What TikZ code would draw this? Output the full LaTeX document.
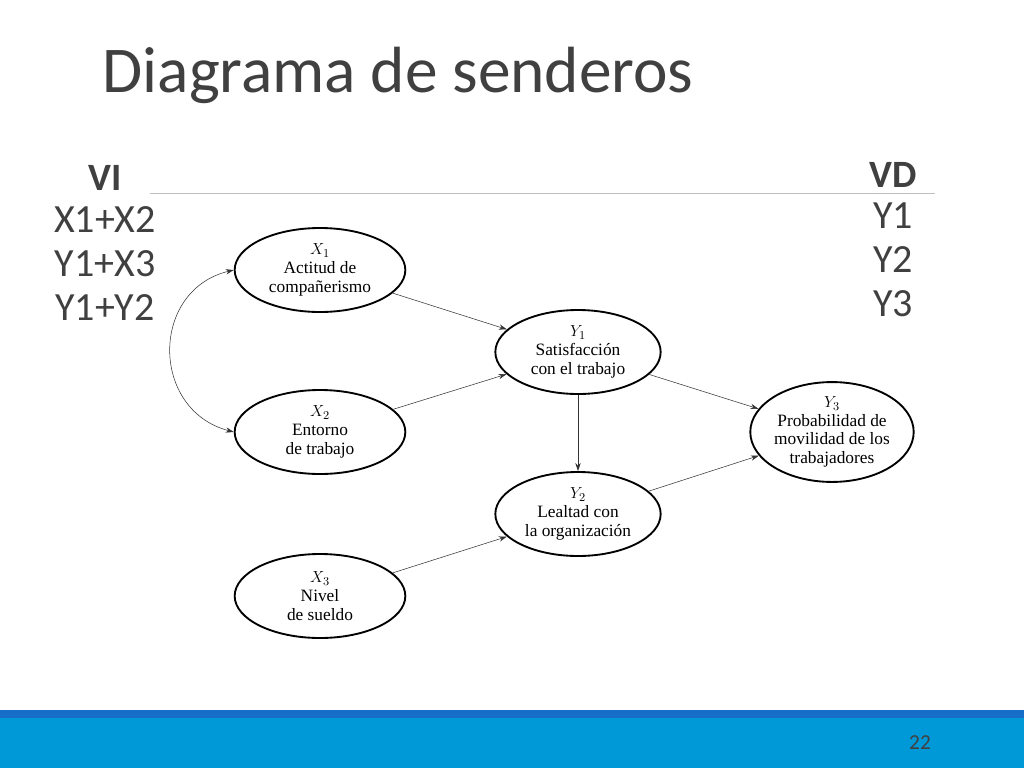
\documentclass[tikz,border=0pt]{standalone}
\usepackage{fontspec}
\setmainfont{Carlito}
\newfontfamily\diagfont{Liberation Serif}
\usetikzlibrary{shapes.geometric,arrows.meta}
\definecolor{titlegray}{RGB}{64,64,64}
\definecolor{bardark}{RGB}{22,110,200}
\definecolor{barlight}{RGB}{0,153,216}
\tikzset{
  var/.style={ellipse, draw, line width=1.4pt, minimum width=128pt, minimum height=63pt,
    align=center, font=\diagfont\fontsize{13}{14}\selectfont, inner sep=0pt},
  path/.style={-{Stealth[length=6pt,width=4pt]}, thin, gray!40!black},
  side/.style={font=\fontsize{30}{30}\selectfont, text=titlegray}
}
\begin{document}
\begin{tikzpicture}[x=0.75pt,y=-0.75pt]
        \useasboundingbox (0,0) rectangle (1024,768);
        \fill[white] (0,0) rectangle (1024,768);
        % title and side lists
        \node (title) at (98,75) [anchor=west, text=titlegray, font=\fontsize{49}{49}\selectfont] {Diagrama de senderos};
        \draw[gray!50] (150,193) -- (935,193);
        \node (vi) at (105,178) [side, font=\bfseries\fontsize{29}{29}\selectfont] {VI};
        \node (vi1) at (105,220) [side] {X1+X2};
        \node (vi2) at (105,264) [side] {Y1+X3};
        \node (vi3) at (105,308) [side] {Y1+Y2};
        \node (vd) at (893,175) [side, font=\bfseries\fontsize{29}{29}\selectfont] {VD};
        \node (vd1) at (893,216) [side] {Y1};
        \node (vd2) at (893,260) [side] {Y2};
        \node (vd3) at (893,304) [side] {Y3};

        % path diagram
        \node (x1) at (320,270) [var] {$X_1$\\Actitud de\\compañerismo};
        \node (x2) at (320,432) [var] {$X_2$\\Entorno\\de trabajo};
        \node (x3) at (320,596) [var] {$X_3$\\Nivel\\de sueldo};
        \node (y1) at (578,352) [var, minimum width=124pt] {$Y_1$\\Satisfacción\\con el trabajo};
        \node (y2) at (578,514) [var, minimum width=124pt] {$Y_2$\\Lealtad con\\la organización};
        \node (y3) at (832,432) [var, minimum width=118pt] {$Y_3$\\Probabilidad de\\movilidad de los\\trabajadores};

        \draw[path] (x1) -- (y1);
        \draw[path] (x2) -- (y1);
        \draw[path] (y1) -- (y2);
        \draw[path] (y1) -- (y3);
        \draw[path] (y2) -- (y3);
        \draw[path] (x3) -- (y2);
        \draw[path, {Stealth[length=6pt,width=4pt]}-{Stealth[length=6pt,width=4pt]}]
          (x1.west) .. controls (150,290) and (150,410) .. (x2.west);

        % footer bar
        \fill[bardark] (0,710) rectangle (1024,718);
        \fill[barlight] (0,718) rectangle (1024,768);
        \node (page) at (920,743) [font=\fontsize{16}{16}\selectfont, text=titlegray] {22};
\end{tikzpicture}
\end{document}
